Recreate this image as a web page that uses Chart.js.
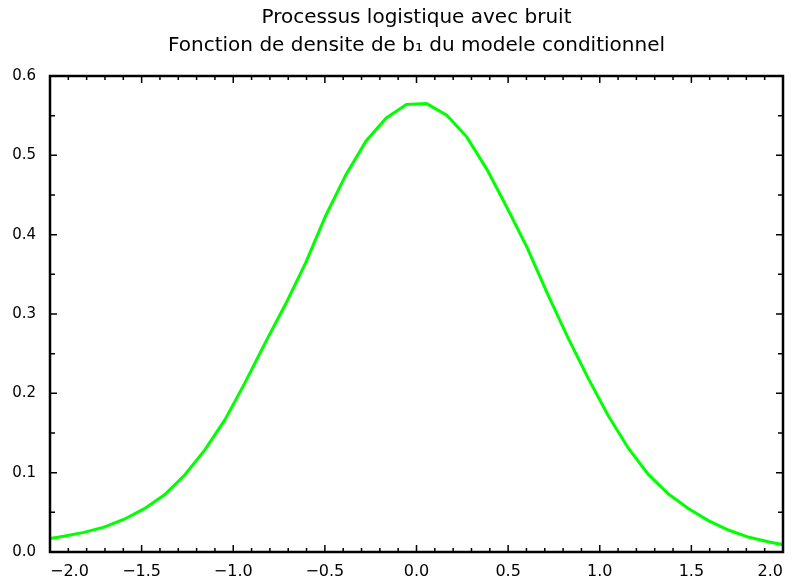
<!DOCTYPE html>
<html>
<head>
<meta charset="utf-8">
<title>Processus logistique avec bruit</title>
<script src="https://cdn.jsdelivr.net/npm/chart.js@4.4.1/dist/chart.umd.min.js"></script>
<style>
  html, body { margin: 0; padding: 0; background: #fff; }
  #wrap { width: 799px; height: 578px; }
</style>
</head>
<body>
<div id="wrap"><canvas id="myChart" width="799" height="578"></canvas></div>
<script>
// titre sur deux lignes
const titleLines = ['Processus logistique avec bruit', 'Fonction de densite de b\u2081 du modele conditionnel'];

// valeurs (abscisse b1, densite)
const b1Values = [-2.035, -1.925, -1.815, -1.705, -1.595, -1.485, -1.375, -1.265, -1.155, -1.045,
                  -0.935, -0.825, -0.715, -0.605, -0.495, -0.385, -0.275, -0.165, -0.055,
                   0.055, 0.165, 0.275, 0.385, 0.495, 0.605, 0.715, 0.825, 0.935,
                   1.045, 1.155, 1.265, 1.375, 1.485, 1.595, 1.705, 1.815, 1.925, 2.035];
const density = [0.0155, 0.0199, 0.0247, 0.0314, 0.0413, 0.0546, 0.0722, 0.0971, 0.1287, 0.1668,
                 0.2138, 0.2640, 0.3122, 0.3644, 0.4242, 0.4757, 0.5182, 0.5472, 0.5641,
                 0.5652, 0.5505, 0.5230, 0.4820, 0.4336, 0.3830, 0.3255, 0.2708, 0.2198,
                 0.1724, 0.1312, 0.0978, 0.0730, 0.0546, 0.0393, 0.0274, 0.0185, 0.0126, 0.0078];

// graduations
const xTicks = [-2.0, -1.5, -1.0, -0.5, 0.0, 0.5, 1.0, 1.5, 2.0];
const yTicks = [0.0, 0.1, 0.2, 0.3, 0.4, 0.5, 0.6];

const FONT = 'DejaVu Sans';

function fmt(v) {
    return (v < 0 ? '\u2212' : '') + Math.abs(v).toFixed(1);
}

// cadre + petites graduations vers l'interieur sur les 4 cotes
const frameTicks = {
    id: 'frameTicks',
    afterDatasetsDraw(chart) {
        const ctx = chart.ctx;
        const a = chart.chartArea;
        const sx = chart.scales.x, sy = chart.scales.y;
        ctx.save();
        ctx.strokeStyle = '#000';
        ctx.lineWidth = 1.5;
        ctx.beginPath();
        for (let i = -20; i <= 20; i++) {
            const px = sx.getPixelForValue(i / 10);
            const len = (i % 5 === 0) ? 7 : 4;
            ctx.moveTo(px, a.bottom); ctx.lineTo(px, a.bottom - len);
            ctx.moveTo(px, a.top); ctx.lineTo(px, a.top + len);
        }
        for (let j = 0; j <= 12; j++) {
            const py = sy.getPixelForValue(j / 20);
            const len = (j % 2 === 0) ? 7 : 5;
            ctx.moveTo(a.left, py); ctx.lineTo(a.left + len, py);
            ctx.moveTo(a.right, py); ctx.lineTo(a.right - len, py);
        }
        ctx.stroke();
        ctx.lineWidth = 2.5;
        ctx.strokeRect(a.left, a.top, a.right - a.left, a.bottom - a.top);
        ctx.restore();
    }
};

let ctx = document.getElementById('myChart').getContext('2d');

new Chart(ctx, {
    type: 'line',
    data: {
        datasets: [{
            data: b1Values.map((x, i) => ({ x: x, y: density[i] })),
            borderColor: '#00ff00',
            borderWidth: 3,
            pointRadius: 0,
            tension: 0,
            fill: false
        }]
    },
    options: {
        responsive: false,
        animation: false,
        events: [],
        layout: { padding: { left: 0, right: 16, top: 4, bottom: 0 } },
        plugins: {
            legend: { display: false },
            tooltip: { enabled: false },
            title: {
                display: true,
                fullSize: false,
                text: titleLines,
                color: '#000',
                font: { family: FONT, size: 20, weight: 'normal', lineHeight: 28 / 20 },
                padding: { top: 0, bottom: 16 }
            }
        },
        scales: {
            x: {
                type: 'linear',
                min: -2, max: 2,
                afterBuildTicks: s => { s.ticks = xTicks.map(v => ({ value: v })); },
                afterFit: s => { s.height = 26; },
                grid: { display: false, drawTicks: false },
                border: { display: false },
                ticks: {
                    align: 'inner',
                    padding: 10,
                    color: '#000',
                    maxRotation: 0,
                    font: { family: FONT, size: 16 },
                    callback: v => fmt(v)
                }
            },
            y: {
                type: 'linear',
                min: 0, max: 0.6,
                afterBuildTicks: s => { s.ticks = yTicks.map(v => ({ value: v })); },
                afterFit: s => { s.width = 50; },
                grid: { display: false, drawTicks: false },
                border: { display: false },
                ticks: {
                    padding: 14,
                    color: '#000',
                    font: { family: FONT, size: 15 },
                    callback: v => fmt(v)
                }
            }
        }
    },
    plugins: [frameTicks]
});
</script>
</body>
</html>
